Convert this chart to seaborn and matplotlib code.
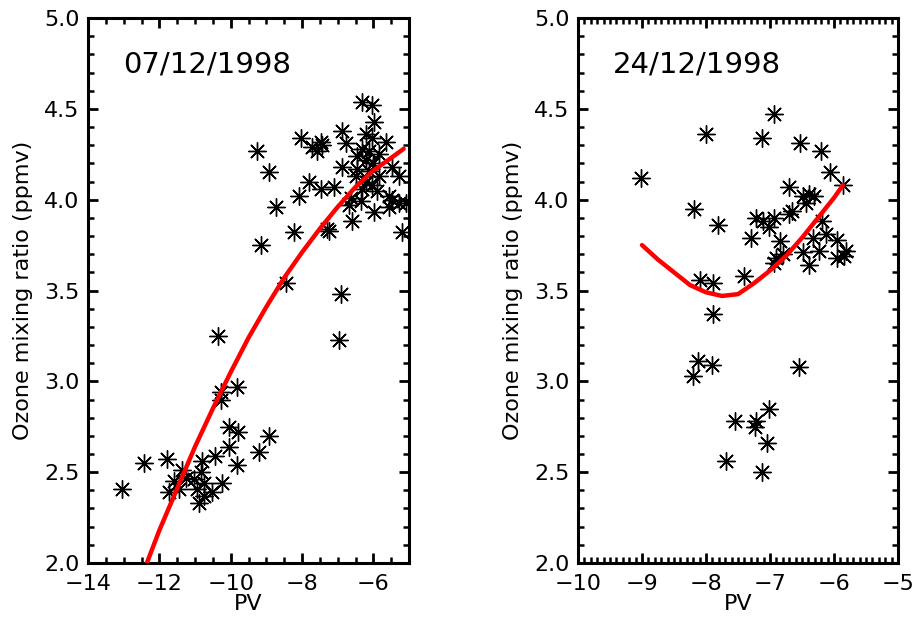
import matplotlib
matplotlib.use("Agg")
import matplotlib.pyplot as plt
from matplotlib.ticker import MultipleLocator
import seaborn as sns
import pandas as pd

# ---- data: 07/12/1998 ----
pv_a = [-9.26, -8.93, -8.03, -7.72, -7.47, -7.44, -7.58, -6.88, -6.77, -6.32,
        -6.04, -5.98, -6.21, -6.04, -5.65, -6.32, -6.12, -5.84, -6.46, -6.88,
        -6.46, -6.12, -5.48, -5.28, -7.80, -7.47, -7.10, -6.49, -6.21, -6.04,
        -5.84, -6.32, -8.08, -6.63, -6.35, -5.56, -5.48, -5.28, -5.09, -5.98,
        -5.56, -6.68, -8.73, -8.22, -7.30, -7.24, -6.60, -5.20, -9.15, -8.45,
        -6.91, -6.96, -10.36, -10.27, -10.27, -9.82, -10.05, -9.80, -10.05, -8.93,
        -9.21, -9.82, -10.44, -10.80, -11.79, -12.43, -13.05, -11.36, -11.59, -11.25,
        -11.03, -10.83, -10.75, -10.24, -11.73, -11.45, -10.94, -10.52, -10.75, -10.89,
        -6.00, -5.90, -6.20]
o3_a = [4.27, 4.15, 4.34, 4.29, 4.32, 4.30, 4.27, 4.38, 4.31, 4.54,
        4.52, 4.43, 4.36, 4.34, 4.32, 4.28, 4.27, 4.25, 4.24, 4.18,
        4.17, 4.16, 4.18, 4.13, 4.10, 4.06, 4.07, 4.13, 4.10, 4.08,
        4.13, 4.06, 4.02, 4.01, 3.99, 4.02, 4.00, 3.98, 3.98, 3.93,
        3.96, 3.97, 3.96, 3.82, 3.84, 3.83, 3.88, 3.82, 3.75, 3.54,
        3.48, 3.23, 3.25, 2.94, 2.90, 2.97, 2.75, 2.72, 2.64, 2.70,
        2.61, 2.54, 2.59, 2.56, 2.57, 2.55, 2.41, 2.51, 2.45, 2.47,
        2.46, 2.50, 2.44, 2.44, 2.39, 2.41, 2.41, 2.39, 2.37, 2.33,
        4.20, 4.05, 4.22]
fit_pv_a = [-12.35, -12.0, -11.5, -11.0, -10.5, -10.0, -9.5, -9.0, -8.5, -8.0,
            -7.5, -7.0, -6.5, -6.0, -5.5, -5.15]
fit_o3_a = [2.00, 2.18, 2.41, 2.64, 2.85, 3.05, 3.24, 3.41, 3.57, 3.71,
            3.84, 3.96, 4.07, 4.16, 4.23, 4.28]

# ---- data: 24/12/1998 ----
pv_b = [-9.02, -8.00, -8.19, -7.81, -6.93, -7.12, -6.53, -6.21, -6.06, -5.86,
        -6.70, -6.49, -6.39, -6.31, -6.44, -6.65, -6.70, -6.93, -7.22, -7.11,
        -7.01, -7.29, -6.85, -6.18, -6.13, -6.33, -5.95, -6.23, -5.81, -5.84,
        -5.95, -6.39, -6.49, -6.80, -6.91, -6.93, -7.40, -8.10, -7.89,
        -7.89, -8.13, -7.90, -8.21, -6.55, -7.01, -7.55, -7.22, -7.23, -7.05,
        -7.69, -7.12]
o3_b = [4.12, 4.36, 3.95, 3.86, 4.47, 4.34, 4.31, 4.27, 4.15, 4.08,
        4.07, 4.02, 4.03, 4.02, 3.98, 3.94, 3.92, 3.90, 3.90, 3.88,
        3.85, 3.79, 3.77, 3.88, 3.81, 3.79, 3.78, 3.72, 3.72, 3.69,
        3.68, 3.64, 3.71, 3.70, 3.68, 3.65, 3.58, 3.56, 3.54,
        3.37, 3.11, 3.09, 3.03, 3.08, 2.85, 2.78, 2.78, 2.75, 2.66,
        2.56, 2.50]
fit_pv_b = [-9.0, -8.75, -8.5, -8.25, -8.0, -7.75, -7.5, -7.25, -7.0, -6.75,
            -6.5, -6.25, -6.0, -5.86]
fit_o3_b = [3.75, 3.67, 3.60, 3.53, 3.49, 3.47, 3.48, 3.54, 3.61, 3.69,
            3.79, 3.90, 4.01, 4.08]

titles = ["07/12/1998", "24/12/1998"]
xlabel = "PV"
ylabel = "Ozone mixing ratio (ppmv)"

sns.set_style("ticks")
plt.rcParams["font.family"] = ["DejaVu Sans"]
plt.rcParams["text.color"] = "black"
plt.rcParams["axes.labelcolor"] = "black"
plt.rcParams["xtick.color"] = "black"
plt.rcParams["ytick.color"] = "black"

fig = plt.figure(figsize=(9.15, 6.21), dpi=100)
ax1 = fig.add_axes([0.0962, 0.0934, 0.3508, 0.8776])
ax2 = fig.add_axes([0.6317, 0.0934, 0.3497, 0.8776])

asterisk = (8, 2, 0)
panels = [
    (ax1, pv_a, o3_a, fit_pv_a, fit_o3_a, (-14, -5), 0.5, [-14, -12, -10, -8, -6]),
    (ax2, pv_b, o3_b, fit_pv_b, fit_o3_b, (-10, -5), 0.1, [-10, -9, -8, -7, -6, -5]),
]
for i, (ax, xs, ys, fx, fy, xlim, xmin, xt) in enumerate(panels):
    sns.scatterplot(x=xs, y=ys, ax=ax, marker=asterisk, s=160, color="black",
                    edgecolor="black", linewidth=1.0, zorder=2)
    sns.lineplot(x=fx, y=fy, ax=ax, color="red", linewidth=3.2, sort=False,
                 estimator=None, zorder=3)
    ax.set_xlim(*xlim)
    ax.set_ylim(2.0, 5.0)
    ax.set_xticks(xt)
    ax.set_xticklabels([f"\u2212{abs(v)}" for v in xt])
    ax.xaxis.set_minor_locator(MultipleLocator(xmin))
    ax.set_yticks([2.0, 2.5, 3.0, 3.5, 4.0, 4.5, 5.0])
    ax.set_yticklabels(["2.0", "2.5", "3.0", "3.5", "4.0", "4.5", "5.0"])
    ax.yaxis.set_minor_locator(MultipleLocator(0.1))
    ax.tick_params(which="both", direction="in", top=True, right=True,
                   labelsize=16, width=2.0, color="black", labelcolor="black")
    ax.tick_params(axis="x", which="major", pad=8)
    ax.tick_params(axis="y", which="major", pad=6)
    ax.tick_params(which="major", length=7)
    ax.tick_params(which="minor", length=4, width=1.8)
    for sp in ax.spines.values():
        sp.set_visible(True)
        sp.set_linewidth(2.2)
        sp.set_color("black")
    ax.set_xlabel(xlabel, fontsize=16, labelpad=0, color="black")
    ax.set_ylabel(ylabel, fontsize=16, labelpad=8, color="black")
    ax.text(0.108, 0.90, titles[i], transform=ax.transAxes, fontsize=21,
            va="baseline", ha="left", color="black")

fig.savefig("out.png", dpi=100)
